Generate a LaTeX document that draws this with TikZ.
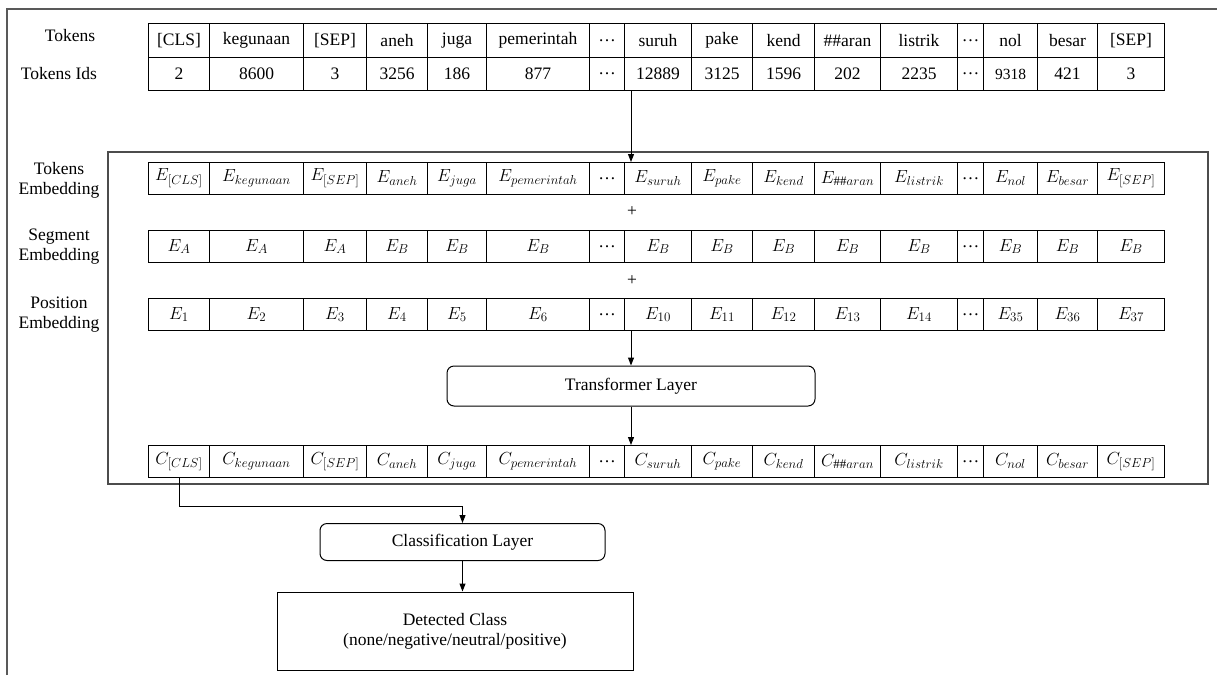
\RequirePackage{fix-cm}
\documentclass[tikz,border=0pt]{standalone}
\usepackage{fontspec}
\setmainfont{Liberation Serif}
\usetikzlibrary{arrows.meta,calc}
\DeclareMathSizes{17.5}{17.5}{13}{10}
\def\colx{{148,209,303,366,427,486,589,624,691,752,814,880,957,983,1037,1097,1164}}
\newcommand\cellrow[4]{%
  \foreach \t [count=\i] in {#4} {%
    \pgfmathsetmacro\cxa{\colx[\i-1]}%
    \pgfmathsetmacro\cxb{\colx[\i]}%
    \pgfmathsetmacro\cwd{\cxb-\cxa}%
    \node[cell, minimum width=\cwd pt, minimum height=#3 pt] (#1\i) at (\cxa,#2) {\t};
  }}
\begin{document}
\begin{tikzpicture}[x=1pt,y=-1pt,
  font=\fontsize{17.5}{20}\selectfont,
  cell/.style={draw, line width=1pt, inner sep=0pt, anchor=north west},
  lbl/.style={align=center, inner sep=0pt},
  rbox/.style={draw, line width=1pt, rounded corners=7pt, inner sep=0pt},
  sbox/.style={draw, line width=1pt, inner sep=0pt},
  arr/.style={-{Triangle[length=8pt,width=6pt]}, line width=1pt},
  frameline/.style={draw=black!65, line width=1.5pt}]
\useasboundingbox (0,0) rectangle (1217,675);
% page frame
\draw[frameline] (7,675) -- (7,9) -- (1217,9);
% embedding container
\draw[draw=black!70, line width=1.3pt] (108,152) rectangle (1208,484);
% left labels
\node[lbl] (ltok) at (70,36) {Tokens};
\node[lbl] (lids) at (59,74) {Tokens Ids};
\node[lbl] (lemb) at (59,180) {Tokens\\Embedding};
\node[lbl] (lseg) at (59,247) {Segment\\Embedding};
\node[lbl] (lpos) at (59,315) {Position\\Embedding};
% rows
\cellrow{tok}{23}{34}{{[CLS]},kegunaan,{[SEP]},aneh,juga,pemerintah,\ldots,suruh,pake,kend,\#\#aran,listrik,\ldots,nol,besar,{[SEP]}}
\cellrow{ids}{57}{33}{2,8600,3,3256,186,877,\ldots,12889,3125,1596,202,2235,\ldots,{\fontsize{15.5}{18}\selectfont 9318},421,3}
\cellrow{e}{162}{32}{{$E_{[CLS]}$},{$E_{kegunaan}$},{$E_{[SEP]}$},{$E_{aneh}$},{$E_{juga}$},{$E_{pemerintah}$},\ldots,{$E_{suruh}$},{$E_{pake}$},{$E_{kend}$},{$E_{\#\#aran}$},{$E_{listrik}$},\ldots,{$E_{nol}$},{$E_{besar}$},{$E_{[SEP]}$}}
\cellrow{s}{230}{32}{{$E_A$},{$E_A$},{$E_A$},{$E_B$},{$E_B$},{$E_B$},\ldots,{$E_B$},{$E_B$},{$E_B$},{$E_B$},{$E_B$},\ldots,{$E_B$},{$E_B$},{$E_B$}}
\cellrow{p}{298}{32}{{$E_1$},{$E_2$},{$E_3$},{$E_4$},{$E_5$},{$E_6$},\ldots,{$E_{10}$},{$E_{11}$},{$E_{12}$},{$E_{13}$},{$E_{14}$},\ldots,{$E_{35}$},{$E_{36}$},{$E_{37}$}}
\cellrow{c}{445}{32}{{$C_{[CLS]}$},{$C_{kegunaan}$},{$C_{[SEP]}$},{$C_{aneh}$},{$C_{juga}$},{$C_{pemerintah}$},\ldots,{$C_{suruh}$},{$C_{pake}$},{$C_{kend}$},{$C_{\#\#aran}$},{$C_{listrik}$},\ldots,{$C_{nol}$},{$C_{besar}$},{$C_{[SEP]}$}}
% plus signs
\node (plus1) at (632,212) {+};
\node (plus2) at (632,281) {+};
% boxes
\node[rbox, minimum width=368pt, minimum height=40pt] (tr) at (631,386) {Transformer Layer};
\node[rbox, minimum width=285pt, minimum height=37pt] (cl) at (462.5,542) {Classification Layer};
\node[sbox, minimum width=356pt, minimum height=78pt, align=center] (dc) at (455,631) {Detected Class\\(none/negative/neutral/positive)};
% connectors
\coordinate (a1) at ([xshift=7pt]ids8.south west);
\draw[arr] (a1) -- (a1 |- e8.north);
\draw[arr] (tr.north |- p8.south) -- (tr.north);
\draw[arr] (tr.south) -- (tr.south |- c8.north);
\draw[arr] (c1.south) -- ++(0,28) -| (cl.north);
\draw[arr] (cl.south) -- (cl.south |- dc.north);
\end{tikzpicture}
\end{document}
